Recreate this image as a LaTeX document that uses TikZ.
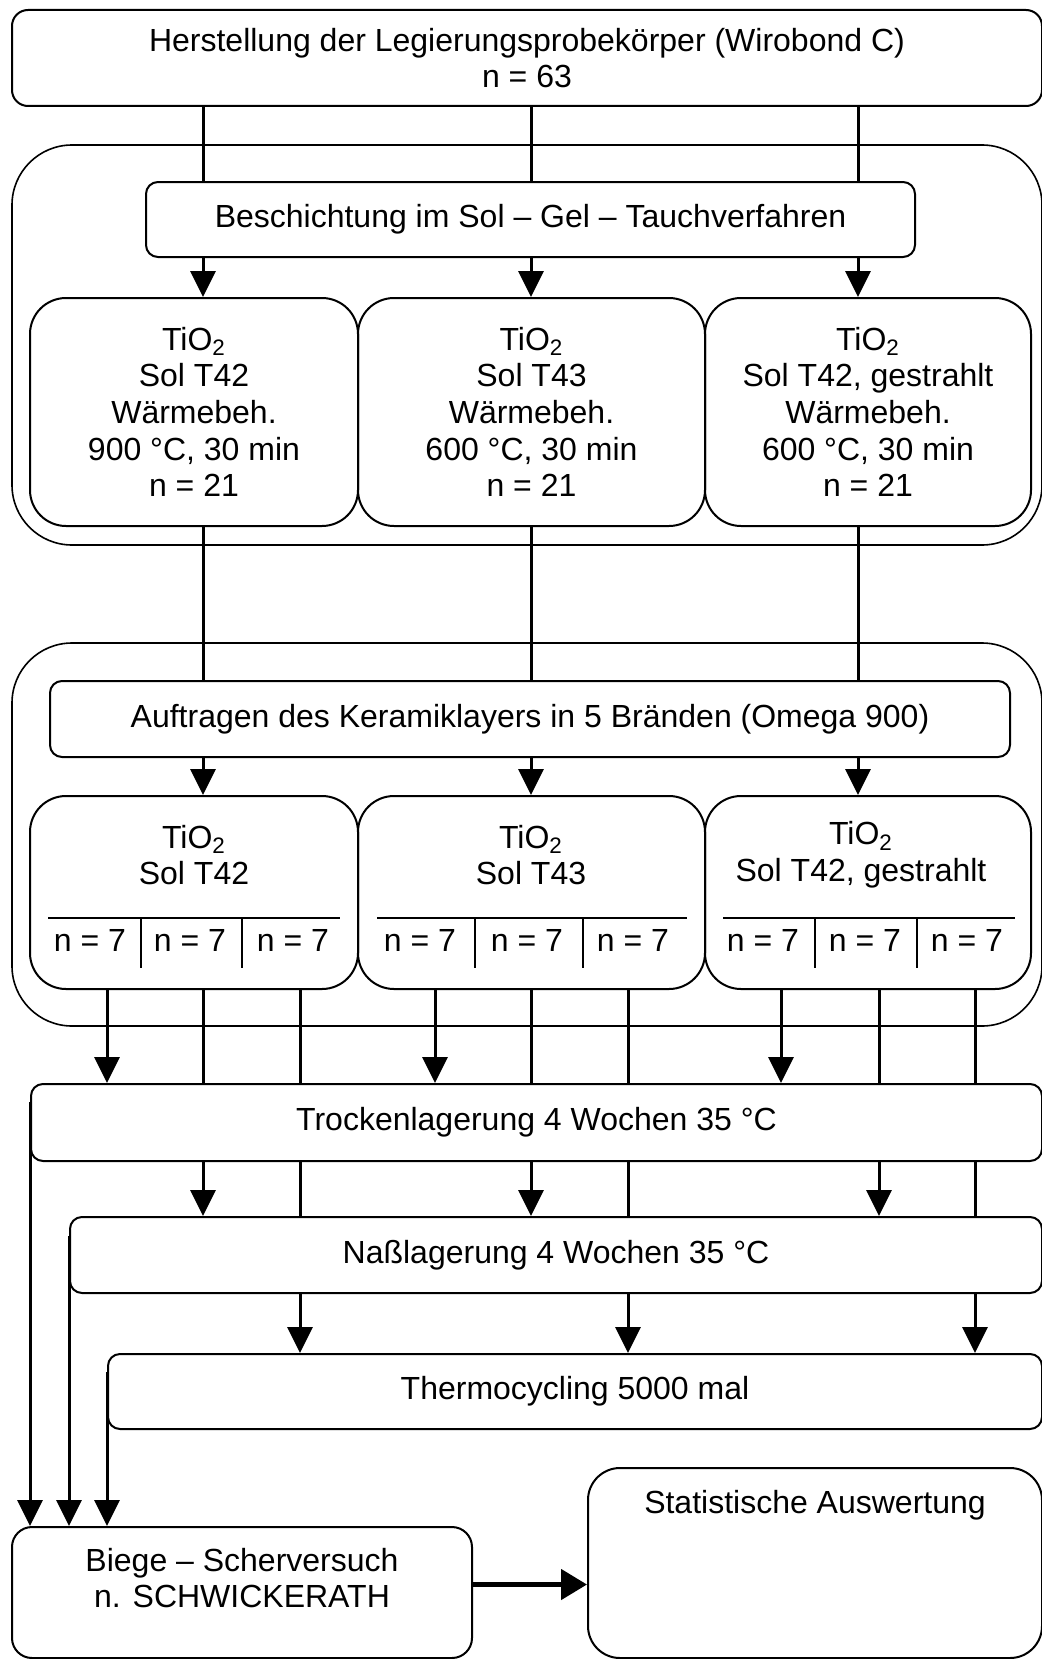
\documentclass[tikz,border=0pt]{standalone}
\usepackage{fontspec}
\setmainfont{Liberation Sans}
\usepackage{tikz}
\usetikzlibrary{arrows.meta,calc}

\begin{document}
\begin{tikzpicture}[
  x=0.5pt,y=-0.5pt,
  font=\fontsize{16pt}{18.35pt}\selectfont,
  stage/.style={draw,line width=1pt,rounded corners=6pt,inner sep=0pt,align=center},
  sample/.style={stage,rounded corners=18pt},
  groupframe/.style={draw,line width=0.8pt,rounded corners=30pt,inner sep=0pt},
  txt/.style={inner sep=0pt,align=center},
  divider/.style={line width=1pt},
  link/.style={line width=1.5pt},
  arr/.style={link,-{Triangle[length=13pt,width=12.5pt]}},
  bigarr/.style={line width=2.4pt,-{Triangle[length=13pt,width=15pt]}}
]
\useasboundingbox (0,0) rectangle (1042,1659);

% lanes
\coordinate (colA) at (203,0);
\coordinate (colB) at (531,0);
\coordinate (colC) at (858,0);
\coordinate (subA1) at (107,0);
\coordinate (subA2) at (203,0);
\coordinate (subA3) at (300,0);
\coordinate (subB1) at (435,0);
\coordinate (subB2) at (531,0);
\coordinate (subB3) at (628,0);
\coordinate (subC1) at (781,0);
\coordinate (subC2) at (879,0);
\coordinate (subC3) at (975,0);

\node[groupframe,minimum width=515pt,minimum height=200pt] (coatframe) at (527,345) {};
\node[groupframe,minimum width=515pt,minimum height=191.5pt] (layerframe) at (527,834.5) {};

\node[stage,rounded corners=8pt,minimum width=515pt,minimum height=48pt] (alloy) at (527,58)
  {Herstellung der Legierungsprobekörper (Wirobond C)\\n = 63};
\node[stage,minimum width=384.5pt,minimum height=37.5pt] (coat) at (530.5,219.5)
  {Beschichtung im Sol – Gel – Tauchverfahren};

\node[sample,minimum width=164pt,minimum height=114pt] (heat42) at (194,412)
  {TiO\textsubscript{2}\\Sol T42\\Wärmebeh.\\900 °C, 30 min\\n = 21};
\node[sample,minimum width=173.5pt,minimum height=114pt] (heat43) at (531.5,412)
  {TiO\textsubscript{2}\\Sol T43\\Wärmebeh.\\600 °C, 30 min\\n = 21};
\node[sample,minimum width=163pt,minimum height=114pt] (heat42g) at (868,412)
  {TiO\textsubscript{2}\\Sol T42, gestrahlt\\Wärmebeh.\\600 °C, 30 min\\n = 21};

\node[stage,minimum width=480pt,minimum height=38pt] (veneer) at (530,719)
  {Auftragen des Keramiklayers in 5 Bränden (Omega 900)};

\node[sample,minimum width=164pt,minimum height=96.5pt] (layer42) at (194,892.5) {};
\node[sample,minimum width=173.5pt,minimum height=96.5pt] (layer43) at (531.5,892.5) {};
\node[sample,minimum width=163pt,minimum height=96.5pt] (layer42g) at (868,892.5) {};
\node[txt] (layer42txt) at (194,855) {TiO\textsubscript{2}\\Sol T42};
\node[txt] (layer43txt) at (531,855) {TiO\textsubscript{2}\\Sol T43};
\node[txt] (layer42gtxt) at (861,855) {TiO\textsubscript{2}\\Sol T42, gestrahlt};

% sub groups n = 7
\draw[divider] (48,918) -- (340,918);
\draw[divider] (141,918) -- (141,968);
\draw[divider] (242,918) -- (242,968);
\draw[divider] (377,918) -- (687,918);
\draw[divider] (475,918) -- (475,968);
\draw[divider] (583,918) -- (583,968);
\draw[divider] (723,918) -- (1015,918);
\draw[divider] (815,918) -- (815,968);
\draw[divider] (917,918) -- (917,968);
\node[txt] (grpA1) at (90,940) {n = 7};
\node[txt] (grpA2) at (190,940) {n = 7};
\node[txt] (grpA3) at (293,940) {n = 7};
\node[txt] (grpB1) at (420,940) {n = 7};
\node[txt] (grpB2) at (527,940) {n = 7};
\node[txt] (grpB3) at (633,940) {n = 7};
\node[txt] (grpC1) at (763,940) {n = 7};
\node[txt] (grpC2) at (865,940) {n = 7};
\node[txt] (grpC3) at (967,940) {n = 7};

\node[stage,minimum width=505.5pt,minimum height=38.5pt] (dry) at (536.5,1122.5)
  {Trockenlagerung 4 Wochen 35 °C};
\node[stage,minimum width=486pt,minimum height=38pt] (wet) at (556,1255)
  {Naßlagerung 4 Wochen 35 °C};
\node[stage,minimum width=467pt,minimum height=37.5pt] (cycle) at (575,1391.5)
  {Thermocycling 5000 mal};

\node[stage,rounded corners=10pt,minimum width=230pt,minimum height=65.5pt] (shear) at (242,1592.5) {};
\node[txt] (sheartxt) at (242,1578) {Biege – Scherversuch\\n. SCHWICKERATH};
\node[stage,rounded corners=16pt,minimum width=227pt,minimum height=95pt] (stats) at (815,1563) {};
\node[txt] (statstxt) at (815,1505) {Statistische Auswertung};

\draw[link] (alloy.south -| colA) -- (coat.north -| colA);
\draw[link] (alloy.south -| colB) -- (coat.north -| colB);
\draw[link] (alloy.south -| colC) -- (coat.north -| colC);
\draw[arr] (coat.south -| colA) -- (heat42.north -| colA);
\draw[arr] (coat.south -| colB) -- (heat43.north -| colB);
\draw[arr] (coat.south -| colC) -- (heat42g.north -| colC);
\draw[link] (heat42.south -| colA) -- (veneer.north -| colA);
\draw[link] (heat43.south -| colB) -- (veneer.north -| colB);
\draw[link] (heat42g.south -| colC) -- (veneer.north -| colC);
\draw[arr] (veneer.south -| colA) -- (layer42.north -| colA);
\draw[arr] (veneer.south -| colB) -- (layer43.north -| colB);
\draw[arr] (veneer.south -| colC) -- (layer42g.north -| colC);

\draw[arr] (layer42.south -| subA1) -- (dry.north -| subA1);
\draw[link] (layer42.south -| subA2) -- (dry.north -| subA2);
\draw[link] (layer42.south -| subA3) -- (dry.north -| subA3);
\draw[arr] (layer43.south -| subB1) -- (dry.north -| subB1);
\draw[link] (layer43.south -| subB2) -- (dry.north -| subB2);
\draw[link] (layer43.south -| subB3) -- (dry.north -| subB3);
\draw[arr] (layer42g.south -| subC1) -- (dry.north -| subC1);
\draw[link] (layer42g.south -| subC2) -- (dry.north -| subC2);
\draw[link] (layer42g.south -| subC3) -- (dry.north -| subC3);

\draw[arr] (dry.south -| subA2) -- (wet.north -| subA2);
\draw[link] (dry.south -| subA3) -- (wet.north -| subA3);
\draw[arr] (dry.south -| subB2) -- (wet.north -| subB2);
\draw[link] (dry.south -| subB3) -- (wet.north -| subB3);
\draw[arr] (dry.south -| subC2) -- (wet.north -| subC2);
\draw[link] (dry.south -| subC3) -- (wet.north -| subC3);

\draw[arr] (wet.south -| subA3) -- (cycle.north -| subA3);
\draw[arr] (wet.south -| subB3) -- (cycle.north -| subB3);
\draw[arr] (wet.south -| subC3) -- (cycle.north -| subC3);

\draw[arr] ([yshift=-9.5pt]dry.north west) -- (dry.west |- shear.north);
\draw[arr] ([yshift=-10pt]wet.north west) -- (wet.west |- shear.north);
\draw[arr] ([yshift=-9.5pt]cycle.north west) -- (cycle.west |- shear.north);
\draw[bigarr] ([yshift=4pt]shear.east) -- ([yshift=4pt]shear.east -| stats.west);
\end{tikzpicture}
\end{document}
